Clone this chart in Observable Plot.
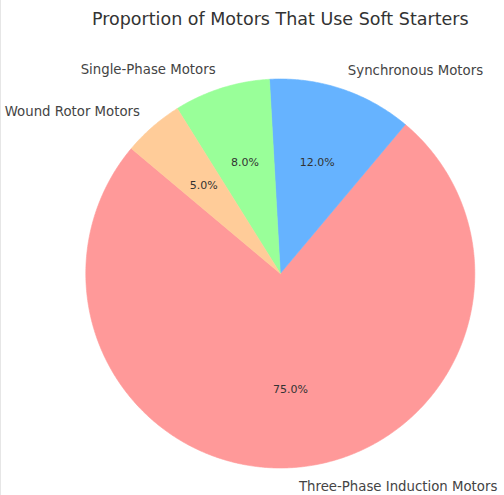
<!DOCTYPE html>
<html>
<head>
<meta charset="utf-8">
<script src="https://cdn.jsdelivr.net/npm/d3@7"></script>
<script src="https://cdn.jsdelivr.net/npm/@observablehq/plot@0.6"></script>
<style>
  body { margin: 0; background: #fff; }
  #wrap { position: relative; width: 504px; height: 495px; }
  #edge { position: absolute; left: 0; top: 0; width: 1px; height: 495px; background: #e6e6e6; }
  svg { display: block; }
</style>
</head>
<body>
<div id="wrap"><div id="edge"></div></div>
<script>
const title = "Proportion of Motors That Use Soft Starters";
const labels = ["Three-Phase Induction Motors", "Synchronous Motors", "Single-Phase Motors", "Wound Rotor Motors"];
const values = [75, 12, 8, 5];
const colors = ["#ff9999", "#66b3ff", "#99ff99", "#ffcc99"];
const startAngle = 140; // degrees, counterclockwise from 3 o'clock

const total = d3.sum(values);
const rad = Math.PI / 180;
let acc = startAngle;
const slices = labels.map((label, i) => {
  const a0 = acc;
  const a1 = acc + values[i] / total * 360;
  acc = a1;
  return { label, value: values[i], a0, a1, mid: (a0 + a1) / 2 };
});

// polygon vertices for each wedge (unit radius)
const wedgePts = [];
for (const s of slices) {
  wedgePts.push({ label: s.label, x: 0, y: 0 });
  const n = Math.max(2, Math.ceil((s.a1 - s.a0) / 0.5));
  for (let k = 0; k <= n; k++) {
    const a = (s.a0 + (s.a1 - s.a0) * k / n) * rad;
    wedgePts.push({ label: s.label, x: Math.cos(a), y: Math.sin(a) });
  }
  wedgePts.push({ label: s.label, x: 0, y: 0 });
}

const labelPts = slices.map(s => ({
  label: s.label,
  x: 1.1 * Math.cos(s.mid * rad),
  y: 1.1 * Math.sin(s.mid * rad)
}));
const pctPts = slices.map(s => ({
  text: (s.value / total * 100).toFixed(1) + "%",
  x: 0.6 * Math.cos(s.mid * rad),
  y: 0.6 * Math.sin(s.mid * rad)
}));

const R = 194.5, cx = 279.8, cy = 273, W = 504, H = 495;

const chart = Plot.plot({
  width: W,
  height: H,
  margin: 0,
  x: { domain: [-cx / R, (W - cx) / R], axis: null },
  y: { domain: [-(H - cy) / R, cy / R], axis: null },
  color: { domain: labels, range: colors },
  style: { fontFamily: "DejaVu Sans", background: "white" },
  marks: [
    Plot.line(wedgePts, { x: "x", y: "y", z: "label", fill: "label", stroke: "label", strokeWidth: 0.6, curve: "linear" }),
    Plot.text(labelPts.filter(d => d.x >= 0), { x: "x", y: "y", text: "label", textAnchor: "start", fontSize: 13.3, fill: "#444" }),
    Plot.text(labelPts.filter(d => d.x < 0), { x: "x", y: "y", text: "label", textAnchor: "end", fontSize: 13.3, fill: "#444" }),
    Plot.text(pctPts, { x: "x", y: "y", text: "text", fontSize: 11, fill: "#333" }),
    Plot.text([title], { x: d => 0, frameAnchor: "top", lineAnchor: "top", dy: 12.5, fontSize: 17.5, fill: "#333" })
  ]
});
document.getElementById("wrap").appendChild(chart);
</script>
</body>
</html>
